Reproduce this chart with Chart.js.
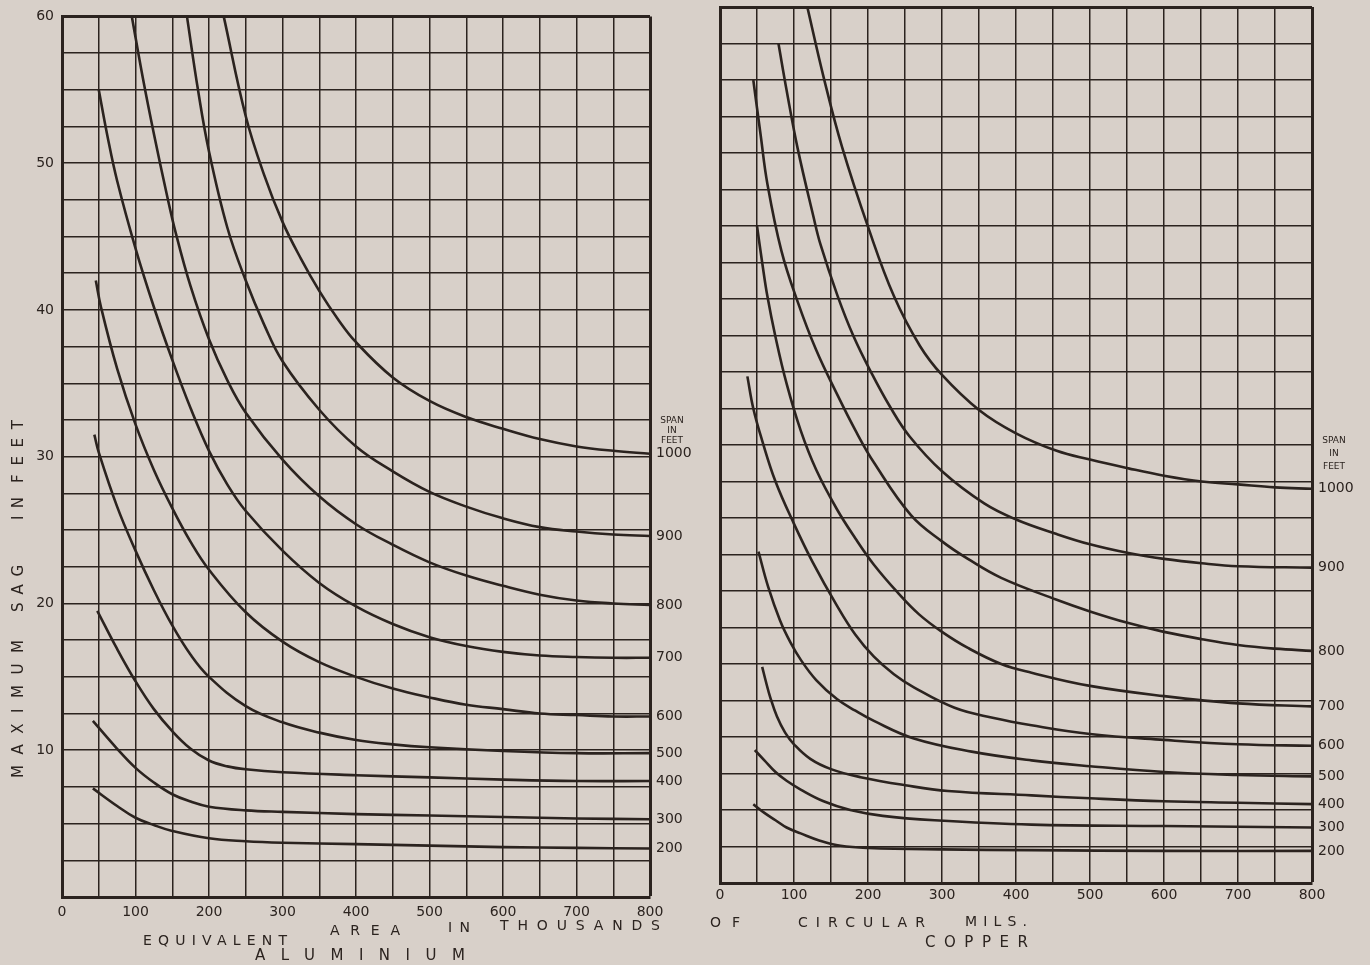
<!DOCTYPE html>
<html>
<head>
<meta charset="utf-8">
<script src="https://cdn.jsdelivr.net/npm/chart.js@4.4.1/dist/chart.umd.min.js"></script>
<style>
  body { margin: 0; background: #d8d0c9; }
  #page { position: relative; width: 1370px; height: 965px; overflow: hidden; background: #d8d0c9; }
  canvas { position: absolute; top: 0; }
  .word { position: absolute; white-space: nowrap; color: #2b231f; font-family: "DejaVu Sans", sans-serif; line-height: 1; }
</style>
</head>
<body>
<div id="page">
  <canvas id="alChart" width="700" height="965" style="left:0"></canvas>
  <canvas id="cuChart" width="670" height="965" style="left:700px"></canvas>
</div>
<script>
// span of each curve, top to bottom
const spans = ['1000', '900', '800', '700', '600', '500', '400', '300', '200'];

// x = area (thousands of circular mils), y = max sag (feet)
// aluminium
const al1000 = [[220,60],[250,53.2],[275,49.2],[300,46.0],[325,43.5],[350,41.3],[375,39.4],[400,37.8],[450,35.4],[500,33.8],[550,32.7],[600,31.9],[650,31.2],[700,30.7],[750,30.4],[800,30.2]];
const al900 = [[170,60],[185,55],[200,50.8],[225,45.6],[250,42.0],[275,39.0],[300,36.5],[350,33.2],[400,30.7],[450,29.0],[500,27.6],[550,26.6],[600,25.8],[650,25.2],[700,24.9],[750,24.7],[800,24.6]];
const al800 = [[95,60],[110,55.8],[125,52.0],[142,48.0],[155,45.2],[175,41.6],[200,38.0],[225,35.2],[250,33.0],[300,29.8],[350,27.3],[400,25.4],[450,24.0],[500,22.8],[550,21.9],[600,21.2],[650,20.6],[700,20.2],[750,20.0],[800,19.9]];
const al700 = [[50,55],[62,51.8],[75,48.8],[100,44.2],[125,40.2],[150,36.6],[175,33.3],[200,30.4],[225,28.1],[250,26.3],[300,23.6],[350,21.4],[400,19.8],[450,18.6],[500,17.7],[550,17.1],[600,16.7],[650,16.45],[700,16.35],[750,16.3],[800,16.3]];
const al600 = [[46,42],[53,40.2],[75,36.0],[100,32.2],[125,29.1],[150,26.5],[175,24.2],[200,22.3],[250,19.4],[300,17.4],[350,16.0],[400,15.0],[450,14.2],[500,13.6],[550,13.1],[600,12.8],[650,12.5],[700,12.4],[750,12.3],[800,12.3]];
const al500 = [[44,31.5],[50,30.3],[75,26.6],[100,23.6],[125,20.9],[150,18.5],[175,16.5],[200,15.0],[250,13.0],[300,11.9],[350,11.2],[400,10.7],[450,10.4],[500,10.2],[600,9.95],[700,9.8],[800,9.8]];
const al400 = [[48,19.5],[75,16.9],[100,14.7],[125,12.8],[150,11.3],[175,10.1],[200,9.3],[225,8.9],[250,8.7],[300,8.5],[400,8.3],[500,8.15],[600,8.0],[700,7.9],[800,7.9]];
const al300 = [[42,12],[75,10.1],[100,8.8],[125,7.8],[150,7.0],[175,6.5],[200,6.15],[250,5.9],[300,5.8],[400,5.65],[500,5.55],[600,5.45],[700,5.35],[800,5.3]];
const al200 = [[42,7.4],[75,6.2],[100,5.4],[125,4.9],[150,4.5],[200,4.0],[250,3.8],[300,3.7],[400,3.6],[500,3.5],[600,3.4],[700,3.35],[800,3.3]];

// copper
const cu1000 = [[118,60],[140,55.2],[165,50.4],[201,44.8],[235,40.2],[270,36.8],[300,34.8],[350,32.4],[400,30.8],[455,29.6],[500,29.0],[552,28.4],[600,27.9],[651,27.5],[700,27.3],[750,27.1],[800,27.0]];
const cu900 = [[79,57.5],[90,54.3],[105,50.3],[126,45.7],[136,43.7],[159,40.2],[180,37.5],[204,35.0],[230,32.6],[256,30.6],[300,28.2],[357,26.0],[400,24.9],[455,23.9],[500,23.2],[552,22.6],[600,22.2],[651,21.9],[700,21.7],[800,21.6]];
const cu800 = [[45,55],[55,51.2],[64,47.9],[83,43.3],[105,39.8],[130,36.5],[158,33.5],[183,31.0],[208,28.8],[258,25.2],[300,23.4],[335,22.2],[380,20.9],[455,19.4],[500,18.6],[552,17.8],[600,17.2],[651,16.7],[700,16.3],[750,16.05],[800,15.9]];
const cu700 = [[50,45],[57,42.5],[64,40.2],[75,37.4],[90,34.2],[109,31.0],[130,28.3],[158,25.6],[183,23.6],[208,21.8],[240,19.9],[269,18.4],[300,17.2],[335,16.1],[380,15.0],[421,14.4],[500,13.5],[600,12.8],[700,12.3],[800,12.1]];
const cu600 = [[37,34.7],[45,32.5],[57,30.3],[75,27.5],[100,24.6],[125,22.0],[158,19.0],[183,17.0],[208,15.5],[235,14.3],[262,13.4],[317,12.0],[370,11.3],[421,10.8],[500,10.2],[600,9.8],[700,9.5],[800,9.4]];
const cu500 = [[52,22.7],[65,20.3],[81,18.0],[95,16.5],[109,15.3],[130,13.9],[158,12.6],[183,11.8],[208,11.1],[262,9.9],[340,9.0],[421,8.4],[500,8.0],[600,7.6],[700,7.4],[800,7.3]];
const cu400 = [[57,14.8],[62,13.8],[68,12.7],[77,11.4],[88,10.3],[100,9.5],[122,8.5],[150,7.8],[190,7.25],[250,6.7],[308,6.3],[421,6.0],[500,5.8],[600,5.6],[700,5.5],[800,5.4]];
const cu300 = [[47,9.1],[60,8.4],[75,7.6],[90,7.0],[109,6.4],[140,5.6],[176,5.0],[220,4.6],[290,4.3],[421,4.0],[600,3.9],[800,3.8]];
const cu200 = [[45,5.4],[60,4.8],[75,4.3],[90,3.8],[109,3.4],[135,2.9],[163,2.55],[200,2.4],[300,2.3],[421,2.25],[600,2.2],[800,2.2]];

const INK = '#2b231f';
const FONT = '"DejaVu Sans", sans-serif';

let alChart, cuChart;

// writes the span value next to the end of each curve
const spanLabels = {
    id: 'spanLabels',
    afterDatasetsDraw(chart, args, opts) {
        const ctx = chart.ctx;
        const area = chart.chartArea;
        ctx.save();
        ctx.fillStyle = INK;
        ctx.textBaseline = 'middle';
        let topY = 0;
        chart.data.datasets.forEach((ds, i) => {
            const pts = chart.getDatasetMeta(i).data;
            const y = pts[pts.length - 1].y;
            if (i === 0) topY = y;
            ctx.font = '14px ' + FONT;
            ctx.textAlign = 'left';
            ctx.fillText(ds.label, area.right + opts.dx, y);
        });
        ctx.font = '9px ' + FONT;
        ctx.textAlign = 'center';
        ['SPAN', 'IN', 'FEET'].forEach((t, k) => {
            ctx.fillText(t, area.right + opts.hx, topY + opts.hy[k]);
        });
        ctx.restore();
    }
};

function makeConfig(series, side) {
    const left = side === 'al';
    return {
        type: 'line',
        data: {
            datasets: series.map((pts, i) => ({
                label: spans[i],
                data: pts.map(p => ({ x: p[0], y: p[1] })),
                borderColor: INK,
                borderWidth: 2.6,
                pointRadius: 0,
                fill: false,
                tension: 0.4
            }))
        },
        options: {
            responsive: false,
            animation: false,
            devicePixelRatio: 1,
            layout: {
                padding: left
                    ? { left: 7, top: 14, right: 50, bottom: 38 }
                    : { left: 20, top: 7, right: 58, bottom: 52 }
            },
            plugins: {
                legend: { display: false },
                tooltip: { enabled: false },
                spanLabels: left
                    ? { dx: 6, hx: 22, hy: [-33, -23, -13] }
                    : { dx: 6, hx: 22, hy: [-48, -35, -22] }
            },
            scales: {
                x: {
                    type: 'linear',
                    min: 0,
                    max: 800,
                    afterFit: s => { s.height = 30; },
                    border: { width: 3, color: INK },
                    grid: {
                        color: INK,
                        drawTicks: false,
                        lineWidth: c => (c.tick && c.tick.value === 800) ? 3 : 1.5
                    },
                    ticks: {
                        stepSize: 50,
                        autoSkip: false,
                        maxRotation: 0,
                        padding: left ? 7 : 4,
                        color: INK,
                        font: { family: FONT, size: 14 },
                        callback: v => (v % 100 === 0) ? v : ''
                    }
                },
                y: {
                    min: 0,
                    max: 60,
                    afterFit: s => { s.width = left ? 55 : 0; },
                    border: { width: 3, color: INK },
                    grid: {
                        color: INK,
                        drawTicks: false,
                        lineWidth: c => (c.tick && c.tick.value === 60) ? 3 : 1.5
                    },
                    ticks: {
                        display: left,
                        stepSize: 2.5,
                        autoSkip: false,
                        padding: 8,
                        color: INK,
                        font: { family: FONT, size: 14 },
                        callback: v => (Math.abs(v % 10) < 1e-6 && v > 0) ? v : ''
                    }
                }
            }
        },
        plugins: [spanLabels]
    };
}

// free text, stretched between a1 and a2 (x, or y when vertical)
const measureCtx = document.createElement('canvas').getContext('2d');
function addWord(text, a1, a2, c, size, vertical) {
    measureCtx.font = size + 'px ' + FONT;
    const w = measureCtx.measureText(text).width;
    const gap = text.length > 1 ? (a2 - a1 - w) / (text.length - 1) : 0;
    const el = document.createElement('div');
    el.className = 'word';
    el.textContent = text;
    el.style.fontSize = size + 'px';
    el.style.letterSpacing = gap + 'px';
    if (vertical) {
        el.style.left = c + 'px';
        el.style.top = a2 + 'px';
        el.style.transformOrigin = '0 0';
        el.style.transform = 'rotate(-90deg) translateY(-50%)';
    } else {
        el.style.left = a1 + 'px';
        el.style.top = (c - size / 2) + 'px';
    }
    document.getElementById('page').appendChild(el);
}

function DrawCharts() {
    alChart = new Chart(document.getElementById('alChart'),
        makeConfig([al1000, al900, al800, al700, al600, al500, al400, al300, al200], 'al'));
    cuChart = new Chart(document.getElementById('cuChart'),
        makeConfig([cu1000, cu900, cu800, cu700, cu600, cu500, cu400, cu300, cu200], 'cu'));

    addWord('MAXIMUM', 640, 778, 18, 15, true);
    addWord('SAG', 565, 612, 18, 15, true);
    addWord('IN', 497, 520, 18, 15, true);
    addWord('FEET', 420, 483, 18, 15, true);

    addWord('EQUIVALENT', 143, 287, 940, 14);
    addWord('AREA', 330, 400, 930, 14);
    addWord('IN', 448, 470, 927, 14);
    addWord('THOUSANDS', 500, 660, 925, 14);
    addWord('OF', 710, 740, 922, 14);
    addWord('CIRCULAR', 798, 925, 922, 14);
    addWord('MILS.', 965, 1027, 921, 14);
    addWord('ALUMINIUM', 255, 465, 955, 15);
    addWord('COPPER', 925, 1028, 942, 15);
}

DrawCharts();
</script>
</body>
</html>
